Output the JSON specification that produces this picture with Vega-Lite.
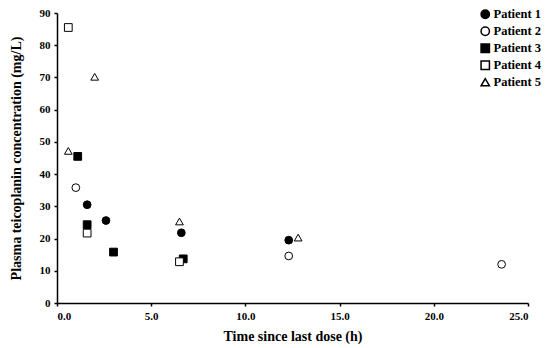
{
  "$schema": "https://vega.github.io/schema/vega-lite/v6.json",
  "width": 471,
  "height": 290,
  "autosize": {"type": "none"},
  "padding": {"left": 57, "top": 13, "right": 22, "bottom": 45},
  "background": "white",
  "config": {
    "view": {"stroke": null},
    "font": "Liberation Serif"
  },
  "data": {
    "values": [
      {"patient": "Patient 1", "time": 1.6, "conc": 30.5},
      {"patient": "Patient 1", "time": 2.6, "conc": 25.6},
      {"patient": "Patient 1", "time": 6.6, "conc": 21.8},
      {"patient": "Patient 1", "time": 12.3, "conc": 19.5},
      {"patient": "Patient 2", "time": 1.0, "conc": 35.8},
      {"patient": "Patient 2", "time": 12.3, "conc": 14.6},
      {"patient": "Patient 2", "time": 23.6, "conc": 12.0},
      {"patient": "Patient 3", "time": 1.1, "conc": 45.5},
      {"patient": "Patient 3", "time": 1.6, "conc": 24.3},
      {"patient": "Patient 3", "time": 3.0, "conc": 15.8},
      {"patient": "Patient 3", "time": 6.7, "conc": 13.7},
      {"patient": "Patient 4", "time": 0.6, "conc": 85.5},
      {"patient": "Patient 4", "time": 1.6, "conc": 21.7},
      {"patient": "Patient 4", "time": 6.5, "conc": 12.8},
      {"patient": "Patient 5", "time": 0.6, "conc": 47.2},
      {"patient": "Patient 5", "time": 2.0, "conc": 70.2},
      {"patient": "Patient 5", "time": 6.5, "conc": 25.3},
      {"patient": "Patient 5", "time": 12.8, "conc": 20.3}
    ]
  },
  "mark": {"type": "point", "filled": false, "strokeWidth": 1, "opacity": 1, "size": 60},
  "encoding": {
    "x": {
      "field": "time", "type": "quantitative",
      "scale": {"domain": [0, 25], "nice": false},
      "axis": {
        "values": [0, 5, 10, 15, 20, 25], "format": ".1f", "grid": false,
        "title": "Time since last dose (h)",
        "domainColor": "black", "domainWidth": 1.5, "tickColor": "black", "tickSize": 3, "tickWidth": 1.5,
        "labelFont": "Liberation Serif", "labelFontWeight": "bold", "labelFontSize": 11, "labelColor": "black", "labelPadding": 4,
        "titleFont": "Liberation Serif", "titleFontWeight": "bold", "titleFontSize": 14, "titleColor": "black", "titlePadding": 8
      }
    },
    "y": {
      "field": "conc", "type": "quantitative",
      "scale": {"domain": [0, 90], "nice": false},
      "axis": {
        "values": [0, 10, 20, 30, 40, 50, 60, 70, 80, 90], "grid": false,
        "title": "Plasma teicoplanin concentration (mg/L)",
        "domainColor": "black", "domainWidth": 1.5, "tickColor": "black", "tickSize": 3, "tickWidth": 1.5,
        "labelFont": "Liberation Serif", "labelFontWeight": "bold", "labelFontSize": 11, "labelColor": "black", "labelPadding": 4,
        "titleFont": "Liberation Serif", "titleFontWeight": "bold", "titleFontSize": 14, "titleColor": "black", "titlePadding": 16
      }
    },
    "shape": {
      "field": "patient", "type": "nominal",
      "scale": {"domain": ["Patient 1", "Patient 2", "Patient 3", "Patient 4", "Patient 5"], "range": ["circle", "circle", "square", "square", "triangle-up"]},
      "legend": {
        "title": null, "orient": "none", "legendX": 422, "legendY": -5,
        "labelFont": "Liberation Serif", "labelFontWeight": "bold", "labelFontSize": 12.5, "labelColor": "black",
        "symbolSize": 70, "rowPadding": 2, "labelOffset": 2
      }
    },
    "fill": {
      "field": "patient", "type": "nominal",
      "scale": {"domain": ["Patient 1", "Patient 2", "Patient 3", "Patient 4", "Patient 5"], "range": ["black", "white", "black", "white", "white"]},
      "legend": {
        "title": null, "orient": "none", "legendX": 422, "legendY": -5,
        "labelFont": "Liberation Serif", "labelFontWeight": "bold", "labelFontSize": 12.5, "labelColor": "black",
        "symbolSize": 70, "rowPadding": 2, "labelOffset": 2
      }
    },
    "stroke": {
      "field": "patient", "type": "nominal",
      "scale": {"domain": ["Patient 1", "Patient 2", "Patient 3", "Patient 4", "Patient 5"], "range": ["black", "black", "black", "black", "black"]},
      "legend": {
        "title": null, "orient": "none", "legendX": 422, "legendY": -5,
        "labelFont": "Liberation Serif", "labelFontWeight": "bold", "labelFontSize": 12.5, "labelColor": "black",
        "symbolSize": 70, "rowPadding": 2, "labelOffset": 2
      }
    }
  }
}
